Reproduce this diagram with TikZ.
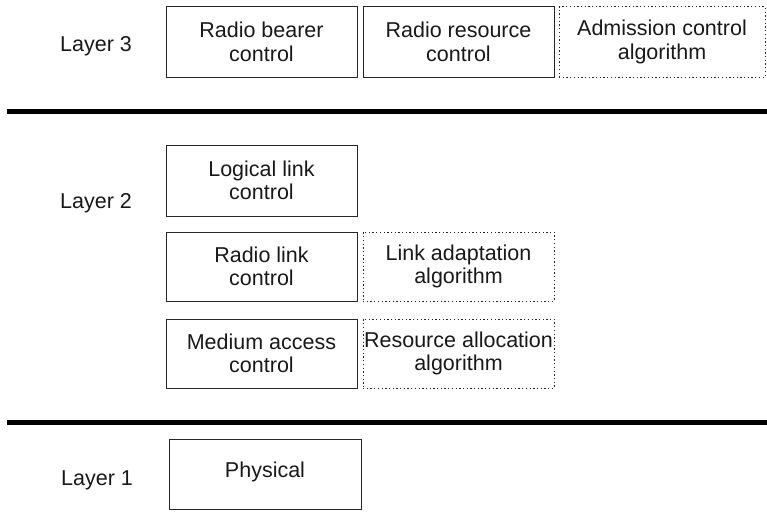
\documentclass[tikz,border=0pt]{standalone}
\usepackage{fontspec}
\setmainfont{Liberation Sans}
\begin{document}
\begin{tikzpicture}[x=1pt,y=-1pt,
  every node/.style={font=\fontsize{21.5}{23.5}\selectfont, text=black!90},
  block/.style={draw=black!85, line width=1pt, rectangle, align=center,
    inner sep=0pt, minimum height=70pt},
  algo/.style={block, dash pattern=on 1.3pt off 2.4pt},
  layertag/.style={inner sep=0pt},
  divider/.style={line width=5pt, black}]
  \useasboundingbox (0,0) rectangle (767,511);

  % Layer 3
  \node[layertag] (l3) at (96,46) {Layer 3};
  \node[block, minimum width=191pt] (rbc) at (261.5,42) {Radio bearer\\control};
  \node[block, minimum width=191pt] (rrc) at (458.5,42) {Radio resource\\control};
  \node[algo, minimum width=206pt] (acl) at (662,42) {Admission control\\algorithm};

  % separator between layers 3 and 2
  \coordinate (s1a) at (7,111);
  \coordinate (s1b) at (767,111);
  \draw[divider] (s1a) -- (s1b);

  % Layer 2
  \node[layertag] (l2) at (96,203) {Layer 2};
  \node[block, minimum width=191pt, minimum height=71pt] (llc) at (261.5,180.5) {Logical link\\control};
  \node[block, minimum width=191pt, minimum height=69pt] (rlc) at (261.5,266.5) {Radio link\\control};
  \node[algo, minimum width=191pt, minimum height=69pt] (laa) at (458.5,266.5) {Link adaptation\\algorithm};
  \node[block, minimum width=191pt, minimum height=69pt] (mac) at (261.5,353.5) {Medium access\\control};
  \node[algo, minimum width=191pt, minimum height=69pt] (raa) at (458.5,353.5) {Resource allocation\\algorithm};

  % separator between layers 2 and 1
  \coordinate (s2a) at (7,422.5);
  \coordinate (s2b) at (767,422.5);
  \draw[divider] (s2a) -- (s2b);

  % Layer 1
  \node[layertag] (l1) at (97,480) {Layer 1};
  \node[block, minimum width=192pt, minimum height=70pt, text depth=0pt] (phy) at (265,474) {\raisebox{8pt}{Physical}};
\end{tikzpicture}
\end{document}
